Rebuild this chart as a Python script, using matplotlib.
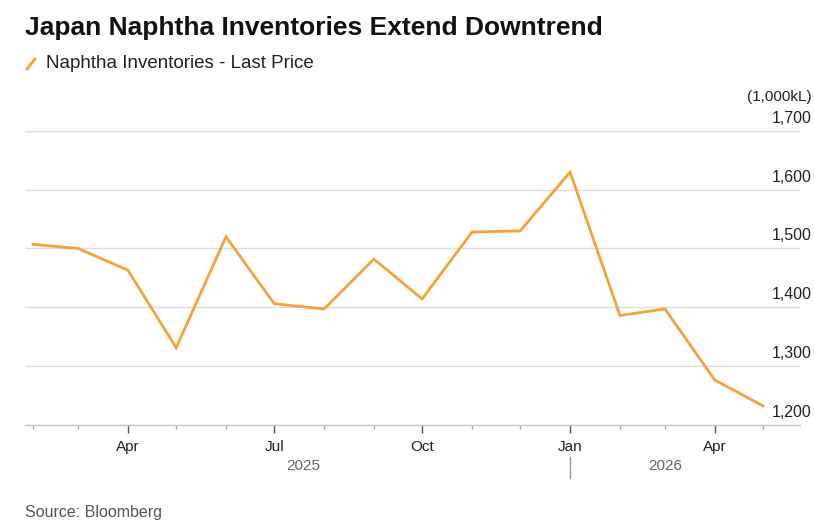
import matplotlib
matplotlib.use("Agg")
import matplotlib.pyplot as plt
import matplotlib.dates as mdates
from matplotlib.lines import Line2D
from matplotlib.transforms import blended_transform_factory, offset_copy
import pandas as pd
import numpy as np

plt.rcParams['font.family'] = ['Liberation Sans', 'DejaVu Sans']

months = pd.date_range("2025-02-01", "2026-05-01", freq="MS")
inventories = [1507, 1500, 1463, 1331, 1520, 1406, 1397, 1482,
               1414, 1528, 1530, 1630, 1386, 1397, 1276, 1232]
y_ticks = [1200, 1300, 1400, 1500, 1600, 1700]
y_tick_labels = ["1,200", "1,300", "1,400", "1,500", "1,600", "1,700"]
year_labels = ["2025", "2026"]

LINE = "#F5A23A"

fig = plt.figure(figsize=(8.14, 5.2), dpi=100)
ax = fig.add_axes([25/814, 1 - 424.7/520, (800-25)/814, (424.7-131)/520])

ax.plot(months, inventories, color=LINE, lw=2.0, solid_joinstyle='miter')

ax.set_ylim(1200, 1700)
ax.set_xlim(pd.Timestamp("2025-01-27"), pd.Timestamp("2026-05-24"))

for s in ["top", "left", "right"]:
    ax.spines[s].set_visible(False)
ax.spines["bottom"].set_color("#c8c8c8")
ax.spines["bottom"].set_linewidth(1.0)

ax.set_yticks(y_ticks)
ax.yaxis.set_tick_params(length=0, labelleft=False)
ax.grid(axis='y', color="#dcdcdc", lw=1.0)
ax.set_axisbelow(True)

tr = blended_transform_factory(ax.transAxes, ax.transData)
tr_up = offset_copy(tr, fig=fig, x=0, y=5, units='dots')
for v, lab in zip(y_ticks, y_tick_labels):
    ax.text(1.0 + 12/775, v, lab, transform=tr_up, ha='right', va='bottom',
            fontsize=11.5, color="#222222")

fig.text(812/814, 1 - 97/520, "(1,000kL)", ha='right', va='center',
         fontsize=11, color="#222222")

ax.xaxis.set_major_locator(mdates.MonthLocator(bymonth=[1, 4, 7, 10]))
ax.xaxis.set_major_formatter(mdates.DateFormatter("%b"))
ax.xaxis.set_minor_locator(mdates.MonthLocator())
ax.tick_params(axis='x', which='major', length=6, width=1, color="#555555",
               labelsize=11, labelcolor="#222222", pad=5)
ax.tick_params(axis='x', which='minor', length=3, width=1, color="#aaaaaa")

# year labels
trx = blended_transform_factory(ax.transData, fig.transFigure)
ax.text(pd.Timestamp("2025-07-01") + pd.Timedelta(days=18), 1 - 466/520, year_labels[0],
        transform=trx, ha='center', va='center', fontsize=11, color="#666666")
ax.text(pd.Timestamp("2026-03-01"), 1 - 466/520, year_labels[1],
        transform=trx, ha='center', va='center', fontsize=11, color="#666666")
ax.add_artist(Line2D([mdates.date2num(pd.Timestamp("2026-01-01"))]*2,
                     [1 - 457/520, 1 - 478/520], transform=trx, color="#999999",
                     lw=1, clip_on=False))

fig.text(25/814, 1 - 28/520, "Japan Naphtha Inventories Extend Downtrend",
         fontsize=19, fontweight='bold', color="#111111", va='center', ha='left')
fig.add_artist(Line2D([27/814, 35/814], [1 - 69/520, 1 - 59/520],
                      color=LINE, lw=2.2, solid_capstyle='round'))
fig.text(46/814, 1 - 63/520, "Naphtha Inventories - Last Price",
         fontsize=13.5, color="#222222", va='center', ha='left')
fig.text(25/814, 1 - 513/520, "Source: Bloomberg", fontsize=11.5, color="#555555",
         va='center', ha='left')

fig.savefig("out.png", dpi=100)
